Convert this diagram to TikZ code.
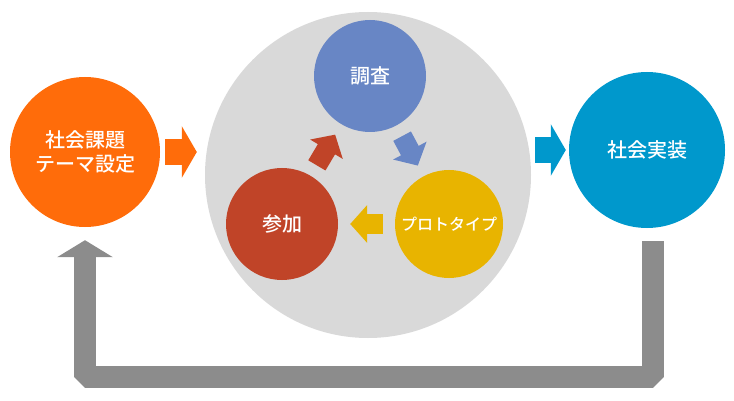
\documentclass[tikz,border=0pt]{standalone}
\usepackage{fontspec}
\setmainfont{Noto Sans CJK JP}[UprightFont=* Medium]
\usetikzlibrary{arrows.meta}
\definecolor{issueorange}{RGB}{255,108,10}
\definecolor{cyclegray}{RGB}{217,217,217}
\definecolor{surveyblue}{RGB}{104,134,197}
\definecolor{protoyellow}{RGB}{232,180,0}
\definecolor{joinred}{RGB}{192,68,40}
\definecolor{implblue}{RGB}{0,152,204}
\definecolor{backgray}{RGB}{140,140,140}
\tikzset{
  disc/.style={circle,inner sep=0pt,minimum size=#1,text=white,align=center,font=\fontsize{20}{24}\selectfont},
  fatarrow/.style={draw=#1,line width=26pt,-{Triangle[width=51pt,length=15pt]}},
  thinarrow/.style={draw=#1,line width=20pt,-{Triangle[width=37pt,length=17pt]},shorten <=12pt,shorten >=12pt},
  backarrow/.style={draw=backgray,line width=22pt,line join=bevel,-{Triangle[width=55pt,length=17pt]}}
}
\begin{document}
\begin{tikzpicture}[x=1pt,y=-1pt]
\useasboundingbox (0,0) rectangle (734,401);
\node[disc=150pt,fill=issueorange] (issue) at (85,152) {社会課題\\テーマ設定};
\node[disc=326pt,fill=cyclegray] (cycle) at (368,175) {};
\node[disc=112pt,fill=surveyblue] (survey) at (370,76) {調査};
\node[disc=108pt,fill=protoyellow,font=\fontsize{16}{20}\selectfont] (proto) at (449,224) {プロトタイプ};
\node[disc=112pt,fill=joinred] (join) at (282,224) {参加};
\node[disc=156pt,fill=implblue] (impl) at (647,150) {社会実装};

\draw[fatarrow=issueorange] ([xshift=5pt]issue.east) -- ([xshift=-8pt]issue.east -| cycle.west);
\draw[fatarrow=implblue] ([xshift=4pt]impl.west -| cycle.east) -- ([xshift=-3pt]impl.west);

\draw[thinarrow=joinred] (join) -- (survey);
\draw[thinarrow=surveyblue] (survey) -- (proto);
\draw[thinarrow=protoyellow] (proto) -- (join);

\coordinate (fbtop) at ([shift={(6pt,-13pt)}]impl.south);
\draw[backarrow] (fbtop) -- ++(0,136) -| ([yshift=-13pt]issue.south);
\end{tikzpicture}
\end{document}
